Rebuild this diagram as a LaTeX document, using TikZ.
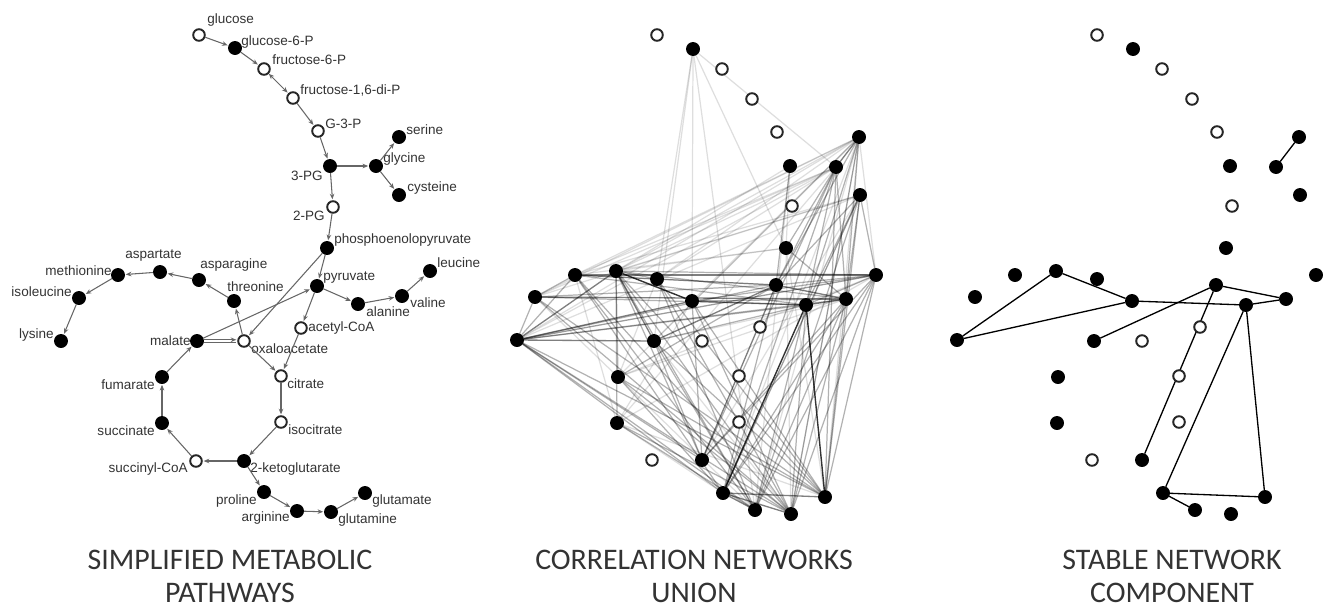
\documentclass[tikz,border=0pt]{standalone}
\usepackage{fontspec}
\setmainfont{Liberation Sans}
\newfontfamily\titlefont{Carlito}
\usetikzlibrary{arrows.meta,backgrounds}

\tikzset{
  fdot/.style={circle, fill=black, draw=black, line width=0.5pt, inner sep=0pt, minimum size=7.4pt},
  odot/.style={circle, fill=white, draw=black!85, line width=1.1pt, inner sep=0pt, minimum size=6.6pt},
  lbl/.style={inner sep=0pt, text=black!80, font=\fontsize{7.7}{9}\selectfont},
  ttl/.style={align=center, inner sep=1pt, text=black!80, font=\titlefont\fontsize{17}{18.8}\selectfont},
  arr/.style={-{Stealth[length=3.2pt,width=2.6pt]}, draw=black!60, line width=0.6pt, shorten >=0.5pt},
  link/.style={draw=black, line width=0.75pt},
  w1/.style={draw=black, line width=0.7pt, opacity=0.13},
  w2/.style={draw=black, line width=0.7pt, opacity=0.3},
  w3/.style={draw=black, line width=0.75pt, opacity=0.5},
  w4/.style={draw=black, line width=0.8pt, opacity=0.8}
}

\def\layout{glc/657/35/odot, g6p/693/49/fdot, f6p/722/69/odot, f16/752/99/odot,
  g3p/777/132/odot, pg3/790/166/fdot, gly/836/167/fdot, ser/859/137/fdot,
  cys/860/195/fdot, pg2/792/206/odot, pep/786/248/fdot, pyr/776/285/fdot,
  leu/876/275/fdot, val/846/299/fdot, ala/806/305/fdot, aca/760/327/odot,
  thr/692/301/fdot, asn/657/279/fdot, asp/616/271/fdot, met/575/275/fdot,
  ile/535/297/fdot, lys/517/340/fdot, mal/654/341/fdot, oaa/702/341/odot,
  cit/739/376/odot, ict/739/422/odot, akg/702/460/fdot, sca/652/460/odot,
  suc/617/423/fdot, fum/618/377/fdot, pro/723/493/fdot, arg/755/510/fdot,
  gln/791/514/fdot, glu/825/497/fdot}

\begin{document}
\begin{tikzpicture}[x=0.02cm, y=-0.02cm]
  \useasboundingbox (0,0) rectangle (1324,609);

  % pathways
  \node[odot] (glc) at (199,35) {};
  \node[fdot] (g6p) at (235,48) {};
  \node[odot] (f6p) at (264,69) {};
  \node[odot] (f16) at (293,98) {};
  \node[odot] (g3p) at (318,131) {};
  \node[fdot] (pg3) at (330,166) {};
  \node[fdot] (gly) at (376,166) {};
  \node[fdot] (ser) at (399,137) {};
  \node[fdot] (cys) at (399,195) {};
  \node[odot] (pg2) at (333,207) {};
  \node[fdot] (pep) at (327,248) {};
  \node[fdot] (pyr) at (317,286) {};
  \node[fdot] (leu) at (430,271) {};
  \node[fdot] (val) at (402,296) {};
  \node[fdot] (ala) at (358,304) {};
  \node[odot] (aca) at (301,328) {};
  \node[fdot] (thr) at (234,301) {};
  \node[fdot] (asn) at (199,280) {};
  \node[fdot] (asp) at (160,272) {};
  \node[fdot] (met) at (118,275) {};
  \node[fdot] (ile) at (79,298) {};
  \node[fdot] (lys) at (61,341) {};
  \node[fdot] (mal) at (197,341) {};
  \node[odot] (oaa) at (244,341) {};
  \node[odot] (cit) at (281,376) {};
  \node[odot] (ict) at (281,422) {};
  \node[fdot] (akg) at (244,461) {};
  \node[odot] (sca) at (196,461) {};
  \node[fdot] (suc) at (162,423) {};
  \node[fdot] (fum) at (162,377) {};
  \node[fdot] (pro) at (264,492) {};
  \node[fdot] (arg) at (297,511) {};
  \node[fdot] (gln) at (331,512) {};
  \node[fdot] (glu) at (365,493) {};

  \node[lbl, anchor=west] (t-glc) at (207,20) {glucose};
  \node[lbl, anchor=west] (t-g6p) at (241,42) {glucose-6-P};
  \node[lbl, anchor=west] (t-f6p) at (272,60) {fructose-6-P};
  \node[lbl, anchor=west] (t-f16) at (300,90) {fructose-1,6-di-P};
  \node[lbl, anchor=west] (t-g3p) at (325,124) {G-3-P};
  \node[lbl, anchor=east] (t-pg3) at (323,176) {3-PG};
  \node[lbl, anchor=west] (t-gly) at (383,159) {glycine};
  \node[lbl, anchor=west] (t-ser) at (406,130) {serine};
  \node[lbl, anchor=west] (t-cys) at (407,188) {cysteine};
  \node[lbl, anchor=east] (t-pg2) at (325,216) {2-PG};
  \node[lbl, anchor=west] (t-pep) at (334,240) {phosphoenolopyruvate};
  \node[lbl, anchor=west] (t-pyr) at (323,278) {pyruvate};
  \node[lbl, anchor=west] (t-leu) at (437,263) {leucine};
  \node[lbl, anchor=west] (t-val) at (410,303) {valine};
  \node[lbl, anchor=west] (t-ala) at (366,312) {alanine};
  \node[lbl, anchor=west] (t-aca) at (308,328) {acetyl-CoA};
  \node[lbl, anchor=west] (t-thr) at (227,287) {threonine};
  \node[lbl, anchor=west] (t-asn) at (200,265) {asparagine};
  \node[lbl, anchor=west] (t-asp) at (125,256) {aspartate};
  \node[lbl, anchor=east] (t-met) at (112,271) {methionine};
  \node[lbl, anchor=east] (t-ile) at (72,292) {isoleucine};
  \node[lbl, anchor=east] (t-lys) at (54,335) {lysine};
  \node[lbl, anchor=east] (t-mal) at (191,341) {malate};
  \node[lbl, anchor=west] (t-oaa) at (251,349) {oxaloacetate};
  \node[lbl, anchor=west] (t-cit) at (287,384) {citrate};
  \node[lbl, anchor=west] (t-ict) at (288,430) {isocitrate};
  \node[lbl, anchor=west] (t-akg) at (250,469) {2-ketoglutarate};
  \node[lbl, anchor=east] (t-sca) at (188,469) {succinyl-CoA};
  \node[lbl, anchor=east] (t-suc) at (155,431) {succinate};
  \node[lbl, anchor=east] (t-fum) at (155,385) {fumarate};
  \node[lbl, anchor=east] (t-pro) at (257,501) {proline};
  \node[lbl, anchor=east] (t-arg) at (290,518) {arginine};
  \node[lbl, anchor=west] (t-gln) at (338,520) {glutamine};
  \node[lbl, anchor=west] (t-glu) at (372,501) {glutamate};

  \foreach \a/\b in {glc/g6p, g6p/f6p, f16/g3p, g3p/pg3, pg3/gly, pg3/pg2, gly/ser, gly/cys,
    pg2/pep, pep/pyr, pep/oaa, pyr/aca, pyr/ala, ala/val, val/leu, mal/pyr, oaa/thr,
    thr/asn, asn/asp, asp/met, met/ile, ile/lys, oaa/cit, aca/cit, cit/ict, ict/akg,
    akg/sca, sca/suc, suc/fum, fum/mal, akg/pro, pro/arg, arg/gln, gln/glu}
    \draw[arr] (\a) -- (\b);
  \draw[arr, <->, >={Stealth[length=3.2pt,width=2.6pt]}] (f6p) -- (f16);
  \draw[arr, transform canvas={yshift=0.7pt}] (mal) -- (oaa);
  \draw[arr, -, transform canvas={yshift=-0.7pt}] (mal) -- (oaa);

  % union and stable component
  \foreach \n/\x/\y/\s in \layout {
    \node[\s] (m-\n) at (\x,\y) {};
    \node[\s] (r-\n) at (\x+440,\y) {};
  }

  \begin{pgfonlayer}{background}
    \foreach \a/\b in {g6p/mal, g6p/thr, g6p/arg, g6p/pep, g6p/gly, g6p/asn,
      ser/met, ser/asp, ser/asn, ser/thr, ser/ile, ser/lys, ser/mal, ser/fum, ser/pro,
      ser/arg, ser/gln, ser/glu, ser/leu, gly/met, gly/asp, gly/asn, gly/ile, gly/lys,
      gly/suc, cys/met, cys/ile, cys/asp, cys/lys, cys/akg, cys/pro, pep/met, pep/asp,
      pep/glu, pep/gln, pg3/pep, pg3/arg, pg3/asp, leu/lys, leu/fum, leu/suc, val/mal,
      val/fum, mal/gln, suc/glu, fum/arg, suc/pro, asn/fum, thr/suc, met/suc, ile/fum}
      \draw[w1] (m-\a) -- (m-\b);
    \foreach \a/\b in {lys/met, lys/ile, lys/pyr, lys/val, lys/ala, lys/leu, lys/pro,
      lys/arg, lys/gln, lys/glu, lys/akg, ile/met, ile/pyr, ile/ala, ile/gln, ile/glu,
      met/asn, met/pyr, met/pro, met/arg, met/gln, met/ala, asp/asn, asp/fum, asp/suc,
      asp/akg, asp/arg, asp/gln, asp/glu, asp/val, asp/leu, asn/pyr, asn/gln, asn/glu,
      asn/arg, thr/gln, thr/glu, thr/val, thr/leu, thr/akg, mal/akg, mal/arg, mal/glu,
      mal/ala, fum/pyr, fum/gln, fum/glu, fum/pro, suc/arg, suc/gln, akg/leu, akg/val,
      akg/gly, pro/leu, pro/val, pro/pyr, pro/gly, pro/cys, arg/leu, arg/val, arg/ala,
      arg/cys, gln/leu, gln/val, gln/ala, gln/ser, glu/leu, glu/val, glu/gly, glu/cys,
      pyr/leu, pyr/gly, pyr/cys, pyr/ser, ala/leu, ala/gly, ala/cys, ala/ser, val/ser,
      val/gly, leu/cys, val/cys, pep/gly, pep/val, pg3/pyr}
      \draw[w2] (m-\a) -- (m-\b);
    \foreach \a/\b in {lys/asp, lys/thr, thr/ala, ala/val, pyr/val, mal/pyr, pyr/akg,
      pro/glu, pro/arg, gly/ser, ile/val, met/leu, lys/mal, asp/mal, pro/gln}
      \draw[w3] (m-\a) -- (m-\b);
    \foreach \a/\b in {asp/thr, ala/pro, ala/glu}
      \draw[w4] (m-\a) -- (m-\b);

    \foreach \a/\b in {gly/ser, lys/asp, asp/thr, lys/thr, thr/ala, ala/val, pyr/val,
      mal/pyr, pyr/akg, ala/pro, ala/glu, pro/glu, pro/arg}
      \draw[link] (r-\a) -- (r-\b);
  \end{pgfonlayer}

  \node[ttl] (cap-path) at (230,576) {SIMPLIFIED METABOLIC\\PATHWAYS};
  \node[ttl] (cap-union) at (694,576) {CORRELATION NETWORKS\\UNION};
  \node[ttl] (cap-stable) at (1172,576) {STABLE NETWORK\\COMPONENT};
\end{tikzpicture}
\end{document}
